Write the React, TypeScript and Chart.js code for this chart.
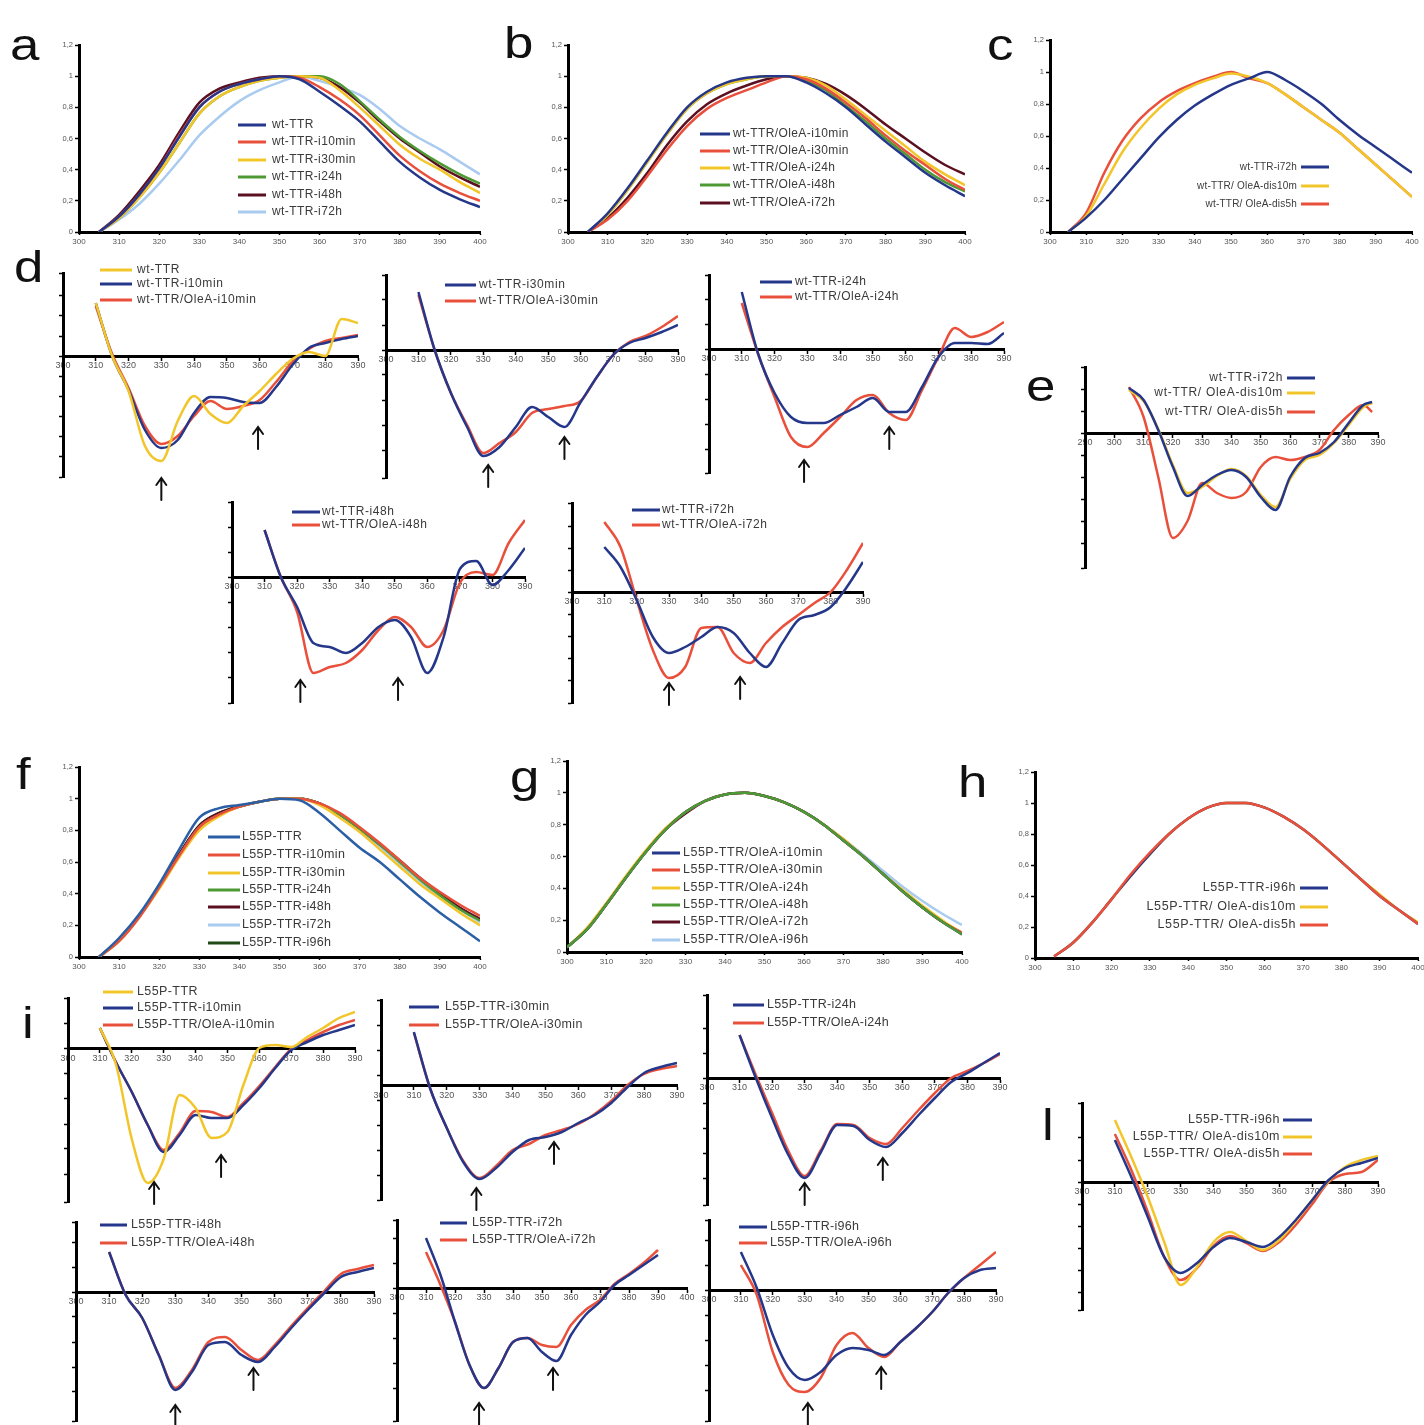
import React, { useEffect, useRef } from "react";
import { Chart, registerables } from "chart.js";
Chart.register(...registerables);

const FONT = '"Liberation Sans", Arial, sans-serif';

// ---------- colours ----------
const NAVY = "#25378a";
const RED = "#e9503c";
const YELLOW = "#f2c62a";
const GREEN = "#4d9a34";
const MAROON = "#5a1020";
const LIGHTBLUE = "#a9cbef";
const DKGREEN = "#1f4a16";
const STEEL = "#2b5fa5";

// ---------- axes / categories ----------
const WL_ABS = [300, 305, 310, 315, 320, 325, 330, 335, 340, 345, 350, 355, 360, 365, 370, 375, 380, 385, 390, 395, 400];
const WL_CD = [305, 310, 315, 320, 325, 330, 335, 340, 345, 350, 355, 360, 365, 370, 375, 380, 385, 390];
const WL_E = [305, 310, 315, 320, 325, 330, 335, 340, 345, 350, 355, 360, 365, 370, 375, 380, 385, 388];
const ABS_TICK_LABELS = ["0", "0,2", "0,4", "0,6", "0,8", "1", "1,2"];

// ---------- panel a ----------
const A_WT = [null, 0, 0.1, 0.24, 0.41, 0.61, 0.8, 0.9, 0.95, 0.98, 1.0, 0.98, 0.9, 0.81, 0.71, 0.58, 0.45, 0.35, 0.27, 0.21, 0.16];
const A_I10 = [null, 0, 0.1, 0.24, 0.41, 0.62, 0.8, 0.9, 0.95, 0.98, 1.0, 0.99, 0.93, 0.85, 0.75, 0.62, 0.49, 0.39, 0.31, 0.25, 0.2];
const A_I30 = [null, 0, 0.09, 0.22, 0.38, 0.57, 0.76, 0.87, 0.93, 0.97, 0.99, 1.0, 0.99, 0.91, 0.8, 0.68, 0.56, 0.47, 0.4, 0.32, 0.25];
const A_I24 = [null, 0, 0.09, 0.22, 0.38, 0.57, 0.76, 0.87, 0.93, 0.97, 0.99, 1.0, 1.0, 0.95, 0.84, 0.72, 0.61, 0.52, 0.44, 0.37, 0.31];
const A_I48 = [null, 0, 0.11, 0.26, 0.43, 0.64, 0.83, 0.92, 0.96, 0.99, 1.0, 1.0, 0.99, 0.93, 0.83, 0.71, 0.6, 0.51, 0.42, 0.35, 0.29];
const A_I72 = [null, 0, 0.08, 0.18, 0.31, 0.46, 0.62, 0.74, 0.84, 0.91, 0.96, 1.0, 0.97, 0.93, 0.88, 0.79, 0.68, 0.6, 0.53, 0.45, 0.37];

// ---------- panel b ----------
const B_I10 = [null, 0, 0.12, 0.28, 0.46, 0.64, 0.8, 0.9, 0.96, 0.99, 1.0, 1.0, 0.96, 0.89, 0.8, 0.69, 0.58, 0.48, 0.38, 0.3, 0.23];
const B_I30 = [null, 0, 0.08, 0.2, 0.36, 0.53, 0.68, 0.79, 0.86, 0.91, 0.96, 1.0, 0.98, 0.92, 0.83, 0.73, 0.62, 0.52, 0.43, 0.34, 0.27];
const B_I24 = [null, 0, 0.11, 0.27, 0.45, 0.63, 0.79, 0.89, 0.95, 0.98, 1.0, 1.0, 0.99, 0.94, 0.85, 0.75, 0.65, 0.55, 0.45, 0.37, 0.3];
const B_I48 = [null, 0, 0.11, 0.27, 0.45, 0.63, 0.79, 0.89, 0.95, 0.98, 1.0, 1.0, 0.97, 0.91, 0.81, 0.71, 0.6, 0.5, 0.4, 0.32, 0.26];
const B_I72 = [null, 0, 0.09, 0.22, 0.38, 0.56, 0.71, 0.82, 0.89, 0.94, 0.98, 1.0, 0.99, 0.95, 0.88, 0.79, 0.69, 0.6, 0.51, 0.43, 0.37];

// ---------- panel c ----------
const C_I72 = [null, 0, 0.09, 0.2, 0.33, 0.46, 0.59, 0.7, 0.79, 0.86, 0.92, 0.96, 1.0, 0.95, 0.88, 0.8, 0.7, 0.61, 0.53, 0.45, 0.37];
const C_DIS10 = [null, 0, 0.1, 0.3, 0.5, 0.65, 0.77, 0.86, 0.92, 0.96, 0.99, 0.97, 0.93, 0.86, 0.78, 0.7, 0.62, 0.52, 0.42, 0.32, 0.22];
const C_DIS5 = [null, 0, 0.12, 0.37, 0.57, 0.71, 0.81, 0.88, 0.93, 0.97, 1.0, 0.96, 0.93, 0.86, 0.78, 0.7, 0.62, 0.52, 0.42, 0.32, 0.22];

// ---------- panel f ----------
const F_WT = [null, 0, 0.12, 0.27, 0.46, 0.68, 0.88, 0.94, 0.96, 0.98, 1.0, 0.99, 0.91, 0.8, 0.69, 0.6, 0.49, 0.38, 0.28, 0.19, 0.1];
const F_I10 = [null, 0, 0.1, 0.25, 0.44, 0.64, 0.82, 0.9, 0.95, 0.98, 1.0, 1.0, 0.97, 0.91, 0.82, 0.72, 0.61, 0.5, 0.41, 0.33, 0.26];
const F_I30 = [null, 0, 0.1, 0.25, 0.43, 0.63, 0.8, 0.89, 0.95, 0.98, 1.0, 1.0, 0.96, 0.88, 0.79, 0.68, 0.57, 0.46, 0.37, 0.28, 0.2];
const F_I24 = [null, 0, 0.11, 0.26, 0.44, 0.64, 0.82, 0.9, 0.95, 0.98, 1.0, 1.0, 0.97, 0.9, 0.81, 0.71, 0.6, 0.49, 0.39, 0.3, 0.23];
const F_I48 = [null, 0, 0.11, 0.26, 0.45, 0.65, 0.83, 0.91, 0.95, 0.98, 1.0, 1.0, 0.97, 0.9, 0.81, 0.71, 0.61, 0.5, 0.4, 0.31, 0.24];
const F_I72 = [null, 0, 0.1, 0.25, 0.44, 0.64, 0.82, 0.9, 0.95, 0.98, 1.0, 1.0, 0.97, 0.9, 0.8, 0.7, 0.59, 0.48, 0.38, 0.3, 0.22];
const F_I96 = [null, 0, 0.11, 0.26, 0.45, 0.65, 0.83, 0.91, 0.95, 0.98, 1.0, 1.0, 0.97, 0.9, 0.81, 0.71, 0.6, 0.49, 0.4, 0.31, 0.23];

// ---------- panel g ----------
const G_I10 = [0.03, 0.14, 0.3, 0.47, 0.63, 0.77, 0.88, 0.95, 0.99, 1.0, 0.98, 0.94, 0.88, 0.8, 0.7, 0.6, 0.49, 0.38, 0.28, 0.19, 0.11];
const G_I30 = [0.03, 0.14, 0.3, 0.47, 0.63, 0.77, 0.88, 0.95, 0.99, 1.0, 0.98, 0.94, 0.88, 0.8, 0.7, 0.6, 0.49, 0.38, 0.28, 0.19, 0.12];
const G_I24 = [0.03, 0.15, 0.31, 0.48, 0.64, 0.78, 0.88, 0.95, 0.99, 1.0, 0.98, 0.94, 0.88, 0.8, 0.71, 0.6, 0.49, 0.39, 0.29, 0.2, 0.12];
const G_I48 = [0.03, 0.14, 0.3, 0.47, 0.63, 0.77, 0.88, 0.95, 0.99, 1.0, 0.98, 0.94, 0.88, 0.8, 0.7, 0.6, 0.49, 0.38, 0.28, 0.19, 0.11];
const G_I72 = [0.03, 0.14, 0.3, 0.47, 0.63, 0.77, 0.87, 0.95, 0.99, 1.0, 0.98, 0.94, 0.88, 0.8, 0.7, 0.6, 0.49, 0.38, 0.28, 0.19, 0.12];
const G_I96 = [0.03, 0.14, 0.3, 0.47, 0.63, 0.77, 0.88, 0.95, 0.99, 1.0, 0.98, 0.94, 0.88, 0.8, 0.71, 0.61, 0.51, 0.41, 0.32, 0.24, 0.17];

// ---------- panel h ----------
const H_I96 = [null, 0.01, 0.1, 0.23, 0.38, 0.53, 0.67, 0.8, 0.9, 0.97, 1.0, 1.0, 0.97, 0.91, 0.83, 0.73, 0.62, 0.51, 0.4, 0.31, 0.22];
const H_DIS10 = [null, 0.01, 0.1, 0.23, 0.38, 0.53, 0.67, 0.8, 0.9, 0.97, 1.0, 1.0, 0.97, 0.91, 0.83, 0.73, 0.62, 0.51, 0.41, 0.31, 0.23];
const H_DIS5 = [null, 0.01, 0.1, 0.23, 0.38, 0.54, 0.68, 0.8, 0.9, 0.97, 1.0, 1.0, 0.97, 0.91, 0.83, 0.73, 0.62, 0.51, 0.4, 0.31, 0.22];

// ---------- panel d (CD, arbitrary units) ----------
const D1_WT = [null, 5.3, 0, -3.5, -9.0, -10.5, -6.5, -4.0, -5.8, -6.7, -5.0, -3.5, -1.8, -0.3, 0.4, 0.0, 3.7, 3.3];
const D1_I10 = [null, 5.3, 0, -3.4, -7.4, -9.2, -8.4, -5.7, -4.1, -4.2, -4.6, -4.7, -3.1, -0.9, 0.8, 1.3, 1.7, 2.0];
const D1_OLE = [null, 5.0, 0.2, -3.2, -7.0, -8.8, -8.0, -6.0, -4.5, -5.3, -5.0, -4.4, -2.6, -0.6, 0.7, 1.5, 1.8, 2.1];
const D2_I30 = [null, 5.8, 0, -4.3, -7.7, -10.6, -9.7, -7.7, -5.7, -6.7, -7.7, -5.2, -2.7, -0.5, 0.7, 1.2, 1.8, 2.5];
const D2_OLE = [null, 5.5, 0, -4.3, -7.5, -10.3, -9.3, -8.2, -6.3, -5.9, -5.6, -5.1, -2.7, -0.5, 0.8, 1.4, 2.3, 3.4];
const D3_I24 = [null, 5.7, -0.5, -4.4, -6.8, -7.4, -7.4, -6.6, -5.8, -4.9, -6.3, -6.3, -3.8, -0.8, 0.6, 0.6, 0.5, 1.6];
const D3_OLE = [null, 4.6, -0.5, -4.8, -8.8, -9.8, -8.4, -6.8, -5.1, -4.6, -6.4, -7.1, -4.1, -0.8, 2.1, 1.2, 1.7, 2.7];
const D4_I48 = [null, 4.7, 0, -3.0, -6.6, -7.0, -7.6, -6.6, -5.0, -4.3, -6.0, -9.6, -6.0, 0.8, 1.6, -0.8, 0.7, 2.9];
const D4_OLE = [null, 4.7, 0, -3.5, -9.6, -9.0, -8.6, -7.3, -5.3, -4.0, -5.0, -7.0, -5.3, -0.6, 0.5, 0.2, 3.4, 5.7];
const D5_I72 = [null, 4.5, 2.5, -0.8, -4.5, -6.1, -5.5, -4.5, -3.5, -4.1, -6.1, -7.5, -5.1, -2.8, -2.3, -1.5, 0.5, 3.0];
const D5_OLE = [null, 7.0, 4.5, -0.8, -5.8, -8.6, -7.5, -3.6, -3.5, -6.1, -7.1, -5.1, -3.5, -2.3, -1.1, 0, 2.2, 4.9];

// ---------- panel e ----------
const E_I72 = [4.5, 3.3, 0.3, -3.4, -6.3, -5.2, -4.2, -3.7, -4.4, -6.4, -7.7, -4.4, -2.5, -2.0, -0.9, 1.0, 2.8, 3.1];
const E_DIS10 = [4.3, 3.2, 0.4, -3.2, -6.0, -5.4, -4.3, -3.6, -4.3, -6.2, -7.4, -4.6, -2.7, -2.2, -1.0, 0.8, 2.6, 3.0];
const E_DIS5 = [4.6, 1.6, -4.4, -10.5, -8.8, -5.0, -6.0, -6.5, -5.9, -3.4, -2.4, -2.7, -2.4, -1.7, 0.3, 1.8, 2.8, 2.1];

// ---------- panel i ----------
const I1_WT = [null, 2.1, -1.5, -9.0, -13.4, -11.0, -4.6, -5.9, -8.9, -8.3, -3.6, 0.1, 0.4, 0.2, 1.2, 2.1, 3.1, 3.7];
const I1_I10 = [null, 2.1, -1.3, -4.3, -7.6, -10.3, -8.6, -6.6, -6.9, -6.9, -5.6, -3.9, -1.9, -0.1, 0.7, 1.4, 1.9, 2.4];
const I1_OLE = [null, 2.1, -1.3, -4.3, -7.6, -10.1, -8.4, -6.2, -6.3, -6.8, -5.4, -3.7, -1.8, 0, 0.9, 1.7, 2.4, 2.9];
const I2_I30 = [null, 5.4, -0.3, -4.2, -7.6, -9.3, -8.2, -6.6, -5.4, -5.1, -4.6, -3.7, -2.9, -1.7, -0.1, 1.3, 1.9, 2.3];
const I2_OLE = [null, 5.3, -0.3, -4.2, -7.5, -9.2, -8.0, -6.4, -5.8, -4.9, -4.4, -3.8, -2.8, -1.5, 0.1, 1.2, 1.7, 2.0];
const I3_I24 = [null, 4.3, 0, -4.0, -7.7, -10.0, -7.4, -4.7, -4.8, -6.2, -6.9, -5.5, -3.7, -2.0, -0.4, 0.5, 1.5, 2.5];
const I3_OLE = [null, 4.3, 0.3, -3.5, -7.3, -9.8, -7.2, -4.6, -4.7, -6.0, -6.6, -5.0, -3.2, -1.5, 0.0, 0.7, 1.5, 2.4];
const I4_I48 = [null, 4.0, -0.3, -2.6, -6.3, -9.8, -8.0, -5.3, -5.0, -6.3, -7.0, -5.5, -3.6, -1.8, -0.1, 1.5, 2.0, 2.4];
const I4_OLE = [null, 4.0, -0.3, -2.6, -6.3, -9.6, -7.8, -5.0, -4.5, -5.8, -6.8, -5.3, -3.4, -1.6, 0.1, 1.8, 2.3, 2.7];
const I5_I72 = [null, 5.0, 1.3, -3.4, -7.7, -10.0, -8.0, -5.4, -5.0, -6.4, -7.3, -4.7, -2.7, -1.4, 0.3, 1.3, 2.3, 3.3];
const I5_OLE = [null, 3.6, 0.3, -3.4, -7.7, -10.0, -8.0, -5.4, -5.0, -5.7, -5.9, -3.7, -2.2, -1.2, 0.4, 1.4, 2.5, 3.8];
const I6_I96 = [null, 3.8, 0.2, -4.5, -7.8, -9.0, -8.2, -6.5, -5.8, -6.0, -6.5, -5.2, -3.8, -2.2, -0.3, 1.2, 2.0, 2.2];
const I6_OLE = [null, 2.5, -0.5, -6.2, -9.5, -10.2, -8.8, -5.5, -4.3, -5.8, -6.7, -5.2, -3.8, -2.2, -0.3, 1.2, 2.5, 3.8];

// ---------- panel l ----------
const L_I96 = [null, 4.2, 0.5, -3.5, -7.5, -9.1, -8.1, -6.5, -5.6, -6.0, -6.5, -5.5, -3.8, -1.8, 0.2, 1.4, 1.9, 2.4];
const L_DIS10 = [null, 6.2, 2.5, -1.5, -6.0, -10.3, -8.5, -6.0, -5.0, -5.9, -6.8, -5.8, -3.9, -1.8, 0.1, 1.5, 2.2, 2.6];
const L_DIS5 = [null, 4.8, 1.2, -3.0, -7.5, -9.8, -8.6, -6.4, -5.4, -6.1, -6.9, -6.0, -4.3, -2.2, 0.0, 0.8, 1.0, 2.2];

// ---------- arrow marks (wavelength, value) ----------
const D1_ARROWS = [{ x: 330, y: -12.2 }, { x: 359.5, y: -7.1 }];
const D2_ARROWS = [{ x: 331.5, y: -11.5 }, { x: 355, y: -8.7 }];
const D3_ARROWS = [{ x: 329, y: -11.1 }, { x: 355, y: -7.8 }];
const D4_ARROWS = [{ x: 321, y: -10.3 }, { x: 351, y: -10.1 }];
const D5_ARROWS = [{ x: 330, y: -9.1 }, { x: 352, y: -8.5 }];
const I1_ARROWS = [{ x: 327, y: -13.3 }, { x: 348, y: -10.6 }];
const I2_ARROWS = [{ x: 329, y: -10.2 }, { x: 352.6, y: -5.6 }];
const I3_ARROWS = [{ x: 330, y: -10.5 }, { x: 354, y: -8.0 }];
const I4_ARROWS = [{ x: 330, y: -11.3 }, { x: 353.6, y: -7.6 }];
const I5_ARROWS = [{ x: 328.3, y: -11.5 }, { x: 353.8, y: -8.0 }];
const I6_ARROWS = [{ x: 331, y: -11.3 }, { x: 354, y: -7.7 }];

type Vals = (number | null)[];
type Series = { label: string; color: string; values: Vals };
type Legend = { x0: number; x1: number; tx: number; rows: number[]; fs: number; ls: number; textRight?: boolean };
type Panel = {
  kind: "abs" | "cd";
  x0: number; x1: number; yTop: number; yBottom: number; yZero?: number;
  xMin: number; xMax: number; yStep?: number; topSeries?: number;
  wl: number[]; series: Series[]; legend: Legend; arrows?: { x: number; y: number }[];
};

const s = (label: string, color: string, values: Vals): Series => ({ label, color, values });

const PANELS: Panel[] = [
  { kind: "abs", x0: 79, x1: 480, yTop: 45, yBottom: 232, xMin: 300, xMax: 400, wl: WL_ABS,
    series: [s("wt-TTR", NAVY, A_WT), s("wt-TTR-i10min", RED, A_I10), s("wt-TTR-i30min", YELLOW, A_I30), s("wt-TTR-i24h", GREEN, A_I24), s("wt-TTR-i48h", MAROON, A_I48), s("wt-TTR-i72h", LIGHTBLUE, A_I72)],
    legend: { x0: 238, x1: 266, tx: 272, rows: [125, 142, 160, 177, 195, 212], fs: 12, ls: 0.4 } },
  { kind: "abs", x0: 568, x1: 965, yTop: 45, yBottom: 232, xMin: 300, xMax: 400, wl: WL_ABS,
    series: [s("wt-TTR/OleA-i10min", NAVY, B_I10), s("wt-TTR/OleA-i30min", RED, B_I30), s("wt-TTR/OleA-i24h", YELLOW, B_I24), s("wt-TTR/OleA-i48h", GREEN, B_I48), s("wt-TTR/OleA-i72h", MAROON, B_I72)],
    legend: { x0: 700, x1: 730, tx: 733, rows: [134, 151, 168, 185, 203], fs: 12, ls: 0.4 } },
  { kind: "abs", x0: 1050, x1: 1412, yTop: 40, yBottom: 232, xMin: 300, xMax: 400, wl: WL_ABS,
    series: [s("wt-TTR-i72h", NAVY, C_I72), s("wt-TTR/ OleA-dis10m", YELLOW, C_DIS10), s("wt-TTR/ OleA-dis5h", RED, C_DIS5)],
    legend: { x0: 1301, x1: 1329, tx: 1297, rows: [167, 186, 204], fs: 10, ls: 0.2, textRight: true } },
  { kind: "abs", x0: 79, x1: 480, yTop: 767, yBottom: 957, xMin: 300, xMax: 400, wl: WL_ABS,
    series: [s("L55P-TTR", STEEL, F_WT), s("L55P-TTR-i10min", RED, F_I10), s("L55P-TTR-i30min", YELLOW, F_I30), s("L55P-TTR-i24h", GREEN, F_I24), s("L55P-TTR-i48h", MAROON, F_I48), s("L55P-TTR-i72h", LIGHTBLUE, F_I72), s("L55P-TTR-i96h", DKGREEN, F_I96)],
    legend: { x0: 208, x1: 240, tx: 242, rows: [837, 855, 873, 890, 907, 925, 943], fs: 12.5, ls: 0.3 } },
  { kind: "abs", x0: 567, x1: 962, yTop: 761, yBottom: 952, xMin: 300, xMax: 400, wl: WL_ABS, topSeries: 3,
    series: [s("L55P-TTR/OleA-i10min", NAVY, G_I10), s("L55P-TTR/OleA-i30min", RED, G_I30), s("L55P-TTR/OleA-i24h", YELLOW, G_I24), s("L55P-TTR/OleA-i48h", GREEN, G_I48), s("L55P-TTR/OleA-i72h", MAROON, G_I72), s("L55P-TTR/OleA-i96h", LIGHTBLUE, G_I96)],
    legend: { x0: 652, x1: 680, tx: 683, rows: [853, 870, 888, 905, 922, 940], fs: 12.5, ls: 0.5 } },
  { kind: "abs", x0: 1035, x1: 1418, yTop: 772, yBottom: 958, xMin: 300, xMax: 400, wl: WL_ABS, topSeries: 2,
    series: [s("L55P-TTR-i96h", NAVY, H_I96), s("L55P-TTR/ OleA-dis10m", YELLOW, H_DIS10), s("L55P-TTR/ OleA-dis5h", RED, H_DIS5)],
    legend: { x0: 1300, x1: 1328, tx: 1296, rows: [888, 907, 925], fs: 12.5, ls: 0.6, textRight: true } },
  // d
  { kind: "cd", x0: 63, x1: 358, yTop: 273, yBottom: 477, yZero: 356, xMin: 300, xMax: 390, yStep: 2, wl: WL_CD,
    series: [s("wt-TTR", YELLOW, D1_WT), s("wt-TTR-i10min", NAVY, D1_I10), s("wt-TTR/OleA-i10min", RED, D1_OLE)],
    legend: { x0: 100, x1: 132, tx: 137, rows: [270, 284, 300], fs: 12, ls: 0.6 }, arrows: D1_ARROWS },
  { kind: "cd", x0: 386, x1: 678, yTop: 275, yBottom: 478, yZero: 350, xMin: 300, xMax: 390, yStep: 2.5, wl: WL_CD,
    series: [s("wt-TTR-i30min", NAVY, D2_I30), s("wt-TTR/OleA-i30min", RED, D2_OLE)],
    legend: { x0: 445, x1: 476, tx: 479, rows: [285, 301], fs: 12, ls: 0.6 }, arrows: D2_ARROWS },
  { kind: "cd", x0: 709, x1: 1004, yTop: 275, yBottom: 473, yZero: 349, xMin: 300, xMax: 390, yStep: 2.5, wl: WL_CD,
    series: [s("wt-TTR-i24h", NAVY, D3_I24), s("wt-TTR/OleA-i24h", RED, D3_OLE)],
    legend: { x0: 760, x1: 792, tx: 795, rows: [282, 297], fs: 12, ls: 0.5 }, arrows: D3_ARROWS },
  { kind: "cd", x0: 232, x1: 525, yTop: 502, yBottom: 703, yZero: 577, xMin: 300, xMax: 390, yStep: 2.5, wl: WL_CD,
    series: [s("wt-TTR-i48h", NAVY, D4_I48), s("wt-TTR/OleA-i48h", RED, D4_OLE)],
    legend: { x0: 292, x1: 320, tx: 322, rows: [512, 525], fs: 12, ls: 0.6 }, arrows: D4_ARROWS },
  { kind: "cd", x0: 572, x1: 863, yTop: 503, yBottom: 703, yZero: 592, xMin: 300, xMax: 390, yStep: 2.2, wl: WL_CD,
    series: [s("wt-TTR-i72h", NAVY, D5_I72), s("wt-TTR/OleA-i72h", RED, D5_OLE)],
    legend: { x0: 632, x1: 660, tx: 662, rows: [510, 525], fs: 12, ls: 0.6 }, arrows: D5_ARROWS },
  // e
  { kind: "cd", x0: 1085, x1: 1378, yTop: 367, yBottom: 568, yZero: 433, xMin: 290, xMax: 390, yStep: 2.2, wl: WL_E,
    series: [s("wt-TTR-i72h", NAVY, E_I72), s("wt-TTR/ OleA-dis10m", YELLOW, E_DIS10), s("wt-TTR/ OleA-dis5h", RED, E_DIS5)],
    legend: { x0: 1287, x1: 1315, tx: 1283, rows: [378, 393, 412], fs: 12, ls: 0.7, textRight: true } },
  // i
  { kind: "cd", x0: 68, x1: 355, yTop: 998, yBottom: 1202, yZero: 1049, xMin: 300, xMax: 390, yStep: 2.5, wl: WL_CD,
    series: [s("L55P-TTR", YELLOW, I1_WT), s("L55P-TTR-i10min", NAVY, I1_I10), s("L55P-TTR/OleA-i10min", RED, I1_OLE)],
    legend: { x0: 103, x1: 133, tx: 137, rows: [992, 1008, 1025], fs: 12.5, ls: 0.4 }, arrows: I1_ARROWS },
  { kind: "cd", x0: 381, x1: 677, yTop: 1000, yBottom: 1200, yZero: 1086, xMin: 300, xMax: 390, yStep: 2.5, wl: WL_CD,
    series: [s("L55P-TTR-i30min", NAVY, I2_I30), s("L55P-TTR/OleA-i30min", RED, I2_OLE)],
    legend: { x0: 409, x1: 439, tx: 445, rows: [1007, 1025], fs: 12.5, ls: 0.4 }, arrows: I2_ARROWS },
  { kind: "cd", x0: 707, x1: 1000, yTop: 995, yBottom: 1205, yZero: 1078, xMin: 300, xMax: 390, yStep: 2.5, wl: WL_CD,
    series: [s("L55P-TTR-i24h", NAVY, I3_I24), s("L55P-TTR/OleA-i24h", RED, I3_OLE)],
    legend: { x0: 733, x1: 764, tx: 767, rows: [1005, 1023], fs: 12.5, ls: 0.3 }, arrows: I3_ARROWS },
  { kind: "cd", x0: 76, x1: 374, yTop: 1222, yBottom: 1421, yZero: 1292, xMin: 300, xMax: 390, yStep: 2.5, wl: WL_CD,
    series: [s("L55P-TTR-i48h", NAVY, I4_I48), s("L55P-TTR/OleA-i48h", RED, I4_OLE)],
    legend: { x0: 100, x1: 127, tx: 131, rows: [1225, 1243], fs: 12.5, ls: 0.4 }, arrows: I4_ARROWS },
  { kind: "cd", x0: 397, x1: 687, yTop: 1220, yBottom: 1421, yZero: 1288, xMin: 300, xMax: 400, yStep: 2.5, wl: WL_CD,
    series: [s("L55P-TTR-i72h", NAVY, I5_I72), s("L55P-TTR/OleA-i72h", RED, I5_OLE)],
    legend: { x0: 440, x1: 467, tx: 472, rows: [1223, 1240], fs: 12.5, ls: 0.4 }, arrows: I5_ARROWS },
  { kind: "cd", x0: 709, x1: 996, yTop: 1220, yBottom: 1421, yZero: 1290, xMin: 300, xMax: 390, yStep: 2.5, wl: WL_CD,
    series: [s("L55P-TTR-i96h", NAVY, I6_I96), s("L55P-TTR/OleA-i96h", RED, I6_OLE)],
    legend: { x0: 739, x1: 767, tx: 770, rows: [1227, 1243], fs: 12.5, ls: 0.3 }, arrows: I6_ARROWS },
  // l
  { kind: "cd", x0: 1082, x1: 1378, yTop: 1103, yBottom: 1310, yZero: 1182, xMin: 300, xMax: 390, yStep: 2.2, wl: WL_CD,
    series: [s("L55P-TTR-i96h", NAVY, L_I96), s("L55P-TTR/ OleA-dis10m", YELLOW, L_DIS10), s("L55P-TTR/ OleA-dis5h", RED, L_DIS5)],
    legend: { x0: 1283, x1: 1312, tx: 1280, rows: [1120, 1137, 1154], fs: 12.5, ls: 0.5, textRight: true } },
];

const LETTERS = [
  { t: "a", x: 10, b: 60 }, { t: "b", x: 504, b: 58 }, { t: "c", x: 987, b: 60 },
  { t: "d", x: 14, b: 282 }, { t: "e", x: 1026, b: 401 }, { t: "f", x: 16, b: 789 },
  { t: "g", x: 510, b: 792 }, { t: "h", x: 958, b: 797 }, { t: "i", x: 22, b: 1038 },
  { t: "l", x: 1042, b: 1140 },
];

function toPoints(wl: number[], vals: Vals) {
  const out: { x: number; y: number }[] = [];
  wl.forEach((x, i) => {
    const v = vals[i];
    if (v !== null && v !== undefined) out.push({ x, y: v });
  });
  return out;
}

function build(p: Panel) {
  const abs = p.kind === "abs";
  const PL = abs ? 32 : 12, PR = 14, PT = abs ? 8 : 24, PB = abs ? 16 : 32;
  const left = p.x0 - PL, top = p.yTop - PT;
  const width = p.x1 - p.x0 + PL + PR;
  const height = p.yBottom - p.yTop + PT + PB;
  const yMin = abs ? 0 : -(p.yBottom - (p.yZero as number)) / 10;
  const yMax = abs ? 1.2 : ((p.yZero as number) - p.yTop) / 10;

  const legendPlugin = {
    id: "innerLegend",
    afterDraw(chart: any) {
      const ctx = chart.ctx as any;
      const L = p.legend;
      ctx.save();
      ctx.font = `${L.fs}px ${FONT}`;
      ctx.letterSpacing = `${L.ls}px`;
      ctx.textBaseline = "middle";
      p.series.forEach((sr, i) => {
        const y = L.rows[i] - top;
        ctx.strokeStyle = sr.color;
        ctx.lineWidth = 3;
        ctx.beginPath();
        ctx.moveTo(L.x0 - left, y);
        ctx.lineTo(L.x1 - left, y);
        ctx.stroke();
        ctx.fillStyle = "#3a3a3a";
        ctx.textAlign = L.textRight ? "right" : "left";
        ctx.fillText(sr.label, L.tx - left, y);
      });
      ctx.restore();
    },
  };
  const arrowPlugin = {
    id: "arrowMarks",
    afterDraw(chart: any) {
      if (!p.arrows) return;
      const ctx = chart.ctx as CanvasRenderingContext2D;
      const xs = chart.scales.x, ys = chart.scales.y;
      ctx.save();
      ctx.strokeStyle = "#111";
      ctx.lineWidth = 2;
      ctx.lineCap = "round";
      p.arrows.forEach((a) => {
        const px = xs.getPixelForValue(a.x);
        const py = ys.getPixelForValue(a.y);
        ctx.beginPath();
        ctx.moveTo(px, py + 22);
        ctx.lineTo(px, py);
        ctx.moveTo(px - 5, py + 7);
        ctx.lineTo(px, py);
        ctx.lineTo(px + 5, py + 7);
        ctx.stroke();
      });
      ctx.restore();
    },
  };

  const datasets = p.series.map((sr, i) => ({
    label: sr.label,
    data: toPoints(p.wl, sr.values),
    borderColor: sr.color,
    backgroundColor: sr.color,
    borderWidth: 2.5,
    pointRadius: 0,
    fill: false,
    order: p.topSeries === i ? 0 : i + 1,
    cubicInterpolationMode: "monotone" as const,
  }));

  const xScale: any = {
    type: "linear",
    min: p.xMin,
    max: p.xMax,
    position: abs ? "bottom" : { y: 0 },
    ticks: {
      stepSize: 10, autoSkip: false, maxRotation: 0, padding: abs ? 2 : 1,
      font: { size: abs ? 8 : 9, family: FONT }, color: "#555",
    },
    grid: { display: true, drawOnChartArea: false, drawTicks: true, tickLength: 3, tickColor: "#000", tickWidth: 1.5 },
    border: { display: true, color: "#000", width: 3 },
  };
  if (abs) xScale.afterFit = (sc: any) => { sc.height = PB; };

  const yScale: any = {
    type: "linear",
    min: yMin,
    max: yMax,
    position: "left",
    ticks: abs
      ? { stepSize: 0.2, padding: 2, font: { size: 7.5, family: FONT }, color: "#555",
          callback: (v: any) => ABS_TICK_LABELS[Math.round(Number(v) / 0.2)] ?? "" }
      : { stepSize: p.yStep, display: false },
    grid: { display: true, drawOnChartArea: false, drawTicks: true, tickLength: 4, tickColor: "#000", tickWidth: 1.5 },
    border: { display: true, color: "#000", width: 3 },
    afterFit: (sc: any) => { sc.width = PL; },
  };

  const config: any = {
    type: "line",
    data: { datasets },
    options: {
      responsive: false,
      animation: false,
      devicePixelRatio: 1,
      events: [],
      layout: { padding: { left: 0, top: PT, right: PR, bottom: abs ? 0 : PB } },
      plugins: { legend: { display: false }, tooltip: { enabled: false } },
      scales: { x: xScale, y: yScale },
    },
    plugins: [legendPlugin, arrowPlugin],
  };
  return { left, top, width, height, config };
}

function ChartBox({ panel }: { panel: Panel }) {
  const ref = useRef<HTMLCanvasElement>(null);
  const b = build(panel);
  useEffect(() => {
    const chart = new Chart(ref.current as HTMLCanvasElement, build(panel).config);
    return () => chart.destroy();
  }, [panel]);
  return (
    <div style={{ position: "absolute", left: b.left, top: b.top, width: b.width, height: b.height }}>
      <canvas ref={ref} width={b.width} height={b.height} style={{ width: b.width, height: b.height, display: "block" }} />
    </div>
  );
}

export default function App() {
  const FS = 44;
  return (
    <div style={{ position: "absolute", left: 0, top: 0, width: 1424, height: 1425, overflow: "hidden", background: "#fff" }}>
      {PANELS.map((p, i) => <ChartBox key={i} panel={p} />)}
      {LETTERS.map((l) => (
        <div key={l.t} style={{
          position: "absolute", left: l.x, top: l.b - Math.round(0.846 * FS), fontFamily: FONT, fontSize: FS,
          lineHeight: `${FS}px`, color: "#111", transform: "scaleX(1.2)", transformOrigin: "left",
        }}>{l.t}</div>
      ))}
    </div>
  );
}
